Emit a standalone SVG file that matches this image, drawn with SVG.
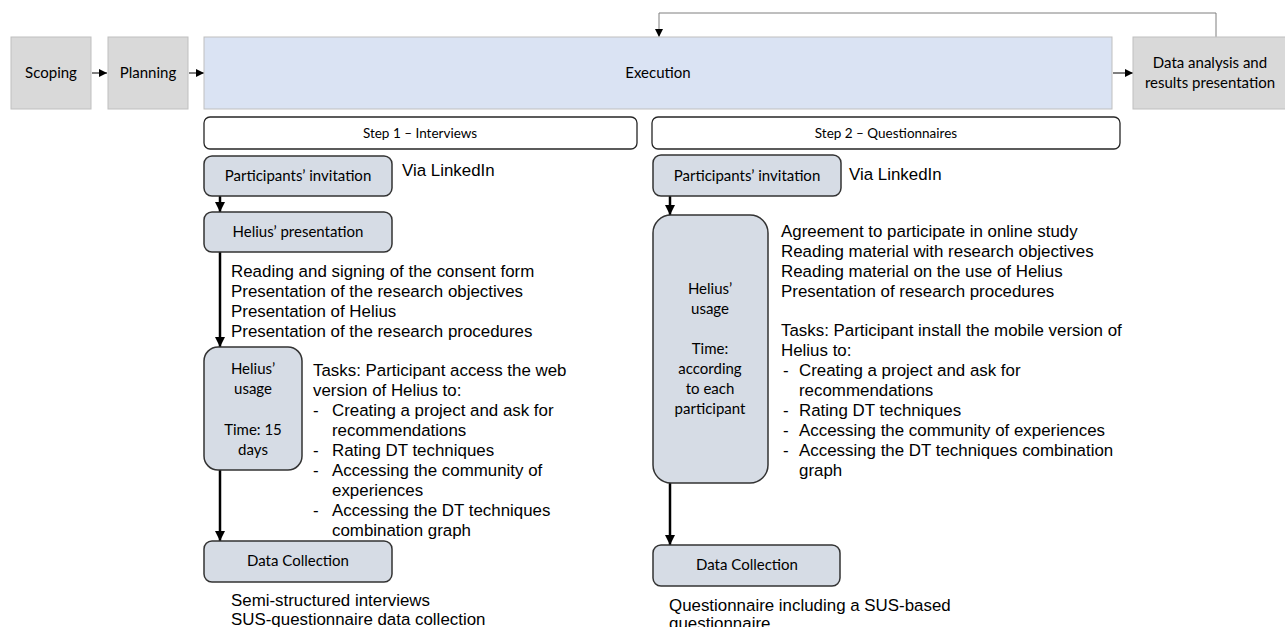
<svg xmlns="http://www.w3.org/2000/svg" width="1285" height="627" viewBox="0 0 1285 627">
<defs>
<style>
.phase{fill:#d9d9d9;stroke:#bfbfbf;stroke-width:1}
.exec{fill:#dae3f3;stroke:#bfbfbf;stroke-width:1}
.step{fill:#ffffff;stroke:#262626;stroke-width:1.3}
.node{fill:#d6dce5;stroke:#333333;stroke-width:1.5}
.cal{font-family:Lato,"Noto Sans",sans-serif;font-size:15px;fill:#000;text-anchor:middle}
.cals{font-family:Lato,"Noto Sans",sans-serif;font-size:13.5px;fill:#000;text-anchor:middle}
.ar{font-family:"Liberation Sans",Arial,sans-serif;font-size:16.9px;fill:#000}
.thin{stroke:#000;stroke-width:1;fill:none}
.fb{stroke:#7f7f7f;stroke-width:1;fill:none}
.thick{stroke:#000;stroke-width:2.5;fill:none}
</style>
<marker id="a1" markerUnits="userSpaceOnUse" markerWidth="9" markerHeight="9" refX="8" refY="4" orient="auto"><path d="M0,0 L8,4 L0,8 z" fill="#000"/></marker>
<marker id="a2" markerUnits="userSpaceOnUse" markerWidth="11" markerHeight="11" refX="10" refY="5" orient="auto"><path d="M0,0 L10,5 L0,10 z" fill="#000"/></marker>
</defs>

<g id="connectors">
<line class="thin" x1="92" y1="73" x2="107" y2="73" marker-end="url(#a1)"/>
<line class="thin" x1="189" y1="73" x2="204" y2="73" marker-end="url(#a1)"/>
<line class="thin" x1="1113" y1="73" x2="1133" y2="73" marker-end="url(#a1)"/>
<polyline class="fb" points="1216,37 1216,13 659,13 659,37" marker-end="url(#a1)"/>
<line class="thick" x1="220" y1="196" x2="220" y2="212" marker-end="url(#a2)"/>
<line class="thick" x1="220" y1="252" x2="220" y2="347" marker-end="url(#a2)"/>
<line class="thick" x1="220" y1="470" x2="220" y2="541" marker-end="url(#a2)"/>
<line class="thick" x1="670" y1="196" x2="670" y2="215" marker-end="url(#a2)"/>
<line class="thick" x1="670" y1="483" x2="670" y2="545" marker-end="url(#a2)"/>
</g>

<g id="scoping"><rect class="phase" x="11" y="37" width="80" height="72"/><text class="cal" x="51" y="78">Scoping</text></g>
<g id="planning"><rect class="phase" x="108" y="37" width="80" height="72"/><text class="cal" x="148" y="78">Planning</text></g>
<g id="execution"><rect class="exec" x="204" y="37" width="908" height="72"/><text class="cal" x="658" y="78">Execution</text></g>
<g id="analysis"><rect class="phase" x="1133" y="37" width="160" height="72"/><text class="cal" x="1210" y="68">Data analysis and</text><text class="cal" x="1210" y="88">results presentation</text></g>

<g id="step1"><rect class="step" x="204" y="117" width="433" height="32" rx="6"/><text class="cals" x="420" y="138">Step 1 – Interviews</text></g>
<g id="step2"><rect class="step" x="652" y="117" width="468" height="32" rx="6"/><text class="cals" x="886" y="138">Step 2 – Questionnaires</text></g>

<g id="s1-invitation"><rect class="node" x="204" y="156" width="188" height="40" rx="8"/><text class="cal" x="298" y="181">Participants’ invitation</text>
<text class="ar" x="402" y="176">Via LinkedIn</text></g>
<g id="s1-presentation"><rect class="node" x="204" y="212" width="188" height="40" rx="8"/><text class="cal" x="298" y="237">Helius’ presentation</text>
<text class="ar" x="231" y="277">Reading and signing of the consent form</text>
<text class="ar" x="231" y="297">Presentation of the research objectives</text>
<text class="ar" x="231" y="317">Presentation of Helius</text>
<text class="ar" x="231" y="337">Presentation of the research procedures</text></g>
<g id="s1-usage"><rect class="node" x="204" y="347" width="98" height="123" rx="14"/>
<text class="cal" x="253" y="374">Helius’</text><text class="cal" x="253" y="394">usage</text>
<text class="cal" x="253" y="435">Time: 15</text><text class="cal" x="253" y="455">days</text>
<text class="ar" x="313" y="376">Tasks: Participant access the web</text>
<text class="ar" x="313" y="396">version of Helius to:</text>
<text class="ar" x="313" y="416">-</text><text class="ar" x="332" y="416">Creating a project and ask for</text>
<text class="ar" x="332" y="436">recommendations</text>
<text class="ar" x="313" y="456">-</text><text class="ar" x="332" y="456">Rating DT techniques</text>
<text class="ar" x="313" y="476">-</text><text class="ar" x="332" y="476">Accessing the community of</text>
<text class="ar" x="332" y="496">experiences</text>
<text class="ar" x="313" y="516">-</text><text class="ar" x="332" y="516">Accessing the DT techniques</text>
<text class="ar" x="332" y="536">combination graph</text></g>
<g id="s1-collection"><rect class="node" x="204" y="541" width="188" height="41" rx="8"/><text class="cal" x="298" y="566">Data Collection</text>
<text class="ar" x="231" y="606">Semi-structured interviews</text>
<text class="ar" x="231" y="625">SUS-questionnaire data collection</text></g>

<g id="s2-invitation"><rect class="node" x="653" y="155" width="188" height="41" rx="8"/><text class="cal" x="747" y="181">Participants’ invitation</text>
<text class="ar" x="849" y="180">Via LinkedIn</text></g>
<g id="s2-usage"><rect class="node" x="653" y="215" width="115" height="268" rx="18"/>
<text class="cal" x="710" y="294">Helius’</text><text class="cal" x="710" y="314">usage</text>
<text class="cal" x="710" y="354">Time:</text><text class="cal" x="710" y="374">according</text>
<text class="cal" x="710" y="394">to each</text><text class="cal" x="710" y="414">participant</text>
<text class="ar" x="781" y="237">Agreement to participate in online study</text>
<text class="ar" x="781" y="257">Reading material with research objectives</text>
<text class="ar" x="781" y="277">Reading material on the use of Helius</text>
<text class="ar" x="781" y="297">Presentation of research procedures</text>
<text class="ar" x="781" y="336">Tasks: Participant install the mobile version of</text>
<text class="ar" x="781" y="356">Helius to:</text>
<text class="ar" x="783" y="376">-</text><text class="ar" x="799" y="376">Creating a project and ask for</text>
<text class="ar" x="799" y="396">recommendations</text>
<text class="ar" x="783" y="416">-</text><text class="ar" x="799" y="416">Rating DT techniques</text>
<text class="ar" x="783" y="436">-</text><text class="ar" x="799" y="436">Accessing the community of experiences</text>
<text class="ar" x="783" y="456">-</text><text class="ar" x="799" y="456">Accessing the DT techniques combination</text>
<text class="ar" x="799" y="476">graph</text></g>
<g id="s2-collection"><rect class="node" x="653" y="545" width="187" height="41" rx="8"/><text class="cal" x="747" y="570">Data Collection</text>
<text class="ar" x="669" y="611">Questionnaire including a SUS-based</text>
<text class="ar" x="669" y="629">questionnaire</text></g>
</svg>
